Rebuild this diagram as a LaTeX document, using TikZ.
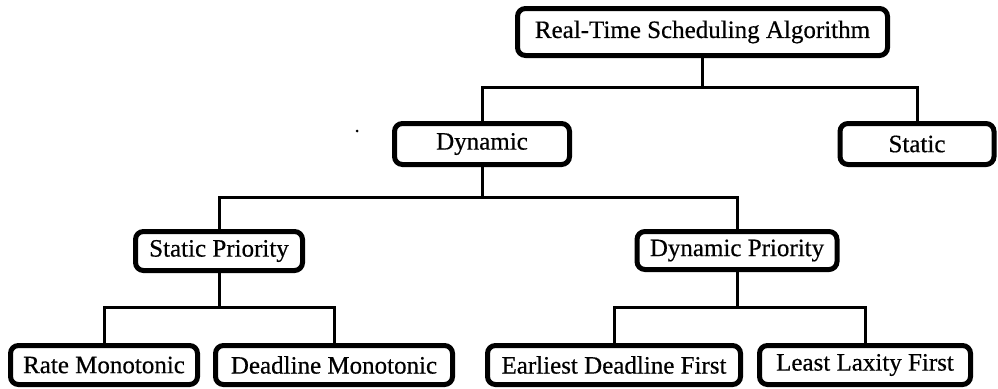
\documentclass[tikz,border=0pt]{standalone}
\usepackage{fontspec}
\IfFontExistsTF{LiberationSerif-Regular.ttf}
  {\setmainfont{LiberationSerif-Regular.ttf}[BoldFont=LiberationSerif-Bold.ttf]
   \newfontfamily\boxfont{LiberationSerif-Regular.ttf}[FakeBold=0.5]}
  {\setmainfont{Liberation Serif}
   \newfontfamily\boxfont{Liberation Serif}[FakeBold=0.5]}
\begin{document}
\begin{tikzpicture}[x=1pt,y=-1pt,
  box/.style={draw=black, line width=5pt, rounded corners=8pt, fill=white,
    inner sep=0pt, outer sep=0pt, align=center,
    font=\boxfont\fontsize{25}{30}\selectfont},
  wire/.style={draw=black, line width=3pt}]
\useasboundingbox (0,0) rectangle (998,388);

% tree nodes (sizes are outer border minus the line width)
\node[box, minimum width=370pt, minimum height=47pt] (root) at (702.5,32) {Real-Time Scheduling Algorithm};
\node[box, minimum width=175pt, minimum height=41pt] (dyn)  at (482,144)  {Dynamic};
\node[box, minimum width=154pt, minimum height=41pt] (stat) at (917,144)  {Static};
\node[box, minimum width=167pt, minimum height=39pt] (sp)   at (219,251)  {Static Priority};
\node[box, minimum width=200pt, minimum height=38pt] (dp)   at (737,250.5) {Dynamic Priority};
\node[box, minimum width=187pt, minimum height=39pt] (rm)   at (104,365)  {Rate Monotonic};
\node[box, minimum width=237pt, minimum height=39pt] (dm)   at (334,365)  {Deadline Monotonic};
\node[box, minimum width=253pt, minimum height=39pt] (edf)  at (614,365)  {Earliest Deadline First};
\node[box, minimum width=211pt, minimum height=39pt] (llf)  at (865,365)  {Least Laxity First};

% stray dot
\fill (357,131) circle (1.5pt);

% tree connectors: parent down to a bus, then across and down to each child
\draw[wire] (root.south) -- ++(0,32) -| (dyn.north);
\draw[wire] (root.south) -- ++(0,32) -| (stat.north);
\draw[wire] (dyn.south) -- ++(0,33) -| (sp.north);
\draw[wire] (dyn.south) -- ++(0,33) -| (dp.north);
\draw[wire] (sp.south) -- ++(0,37) -| (rm.north);
\draw[wire] (sp.south) -- ++(0,37) -| (dm.north);
\draw[wire] (dp.south) -- ++(0,37.5) -| (edf.north);
\draw[wire] (dp.south) -- ++(0,37.5) -| (llf.north);
\end{tikzpicture}
\end{document}
